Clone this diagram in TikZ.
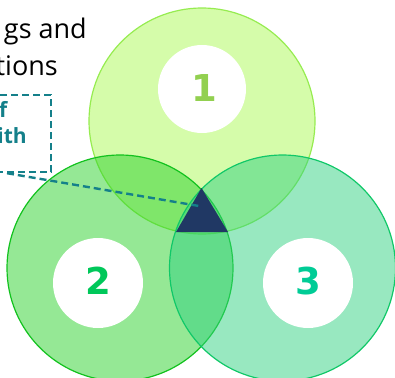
\documentclass[tikz,border=0pt]{standalone}
\usepackage{fontspec}
\setmainfont{Open Sans}
\newfontfamily\digitfont{DejaVu Sans}
\definecolor{cOne}{HTML}{ABF955}
\definecolor{cOneB}{HTML}{96EC50}
\definecolor{cTwo}{HTML}{2BD12B}
\definecolor{cTwoB}{HTML}{12C21E}
\definecolor{cThree}{HTML}{31D181}
\definecolor{cThreeB}{HTML}{10C868}
\definecolor{dOne}{HTML}{92D050}
\definecolor{dTwo}{HTML}{00C85A}
\definecolor{dThree}{HTML}{00CC96}
\definecolor{tealc}{HTML}{14808A}
\definecolor{navy}{HTML}{203864}
\begin{document}
\begin{tikzpicture}[x=1pt,y=-1pt,
  venn/.style={circle, minimum size=226pt, inner sep=0pt, fill opacity=0.5, line width=1.2pt},
  hole/.style={circle, fill=white, inner sep=0pt, minimum size=#1},
  digit/.style={font=\digitfont\bfseries\fontsize{37}{40}\selectfont, inner sep=0pt},
  dashline/.style={draw=tealc, line width=2.4pt, dash pattern=on 7pt off 4pt},
  boxtext/.style={font=\bfseries\fontsize{21}{25}\selectfont, text=tealc, inner sep=0pt},
  toptext/.style={anchor=base east, inner sep=0pt, font=\fontsize{27}{30}\selectfont}]
\useasboundingbox (0,0) rectangle (395,377);
\clip (0,0) rectangle (395,377);
% circles
\node[venn, fill=cOne, draw=cOneB] (c1) at (202,121) {};
\node[venn, fill=cTwo, draw=cTwoB] (c2) at (120,268) {};
\node[venn, fill=cThree, draw=cThreeB] (c3) at (282.5,268) {};
% white holes
\node[hole=88pt] (h1) at (202,89) {};
\node[hole=90pt] (h2) at (98,283) {};
\node[hole=90pt] (h3) at (308,283) {};
\node[digit, text=dOne] (n1) at (204,88) {1};
\node[digit, text=dTwo] (n2) at (98.5,281) {2};
\node[digit, text=dThree] (n3) at (308,281) {3};
% centre triangle
\coordinate (ta) at (201.5,188);
\coordinate (tb) at (176,232);
\coordinate (tc) at (228,232);
\fill[navy] (ta) -- (tb) -- (tc) -- cycle;
\coordinate (tp) at (199,206);
% top text
\node[toptext] (t1) at (87,39) {gs and};
\node[toptext] (t2) at (58,76) {tions};
% callout box
\node[dashline, minimum width=88pt, minimum height=77pt, inner sep=0pt] (box) at (7,133.5) {};
\node[boxtext, anchor=base east] (b1) at (7.5,117) {f};
\node[boxtext, anchor=base east] (b2) at (27,143) {ith};
\draw[dashline] (box.south) -- (tp);
\end{tikzpicture}
\end{document}
